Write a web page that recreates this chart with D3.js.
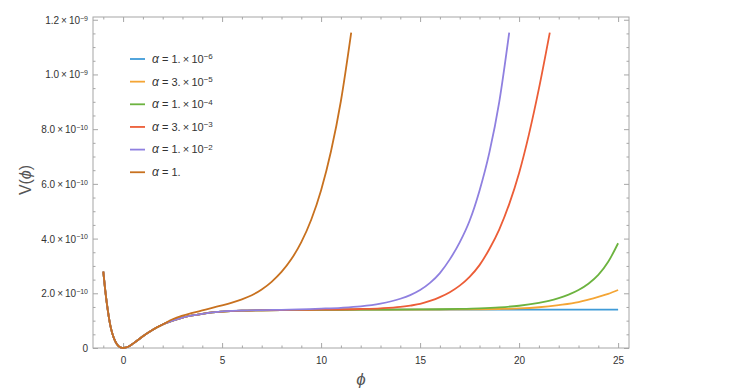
<!DOCTYPE html>
<html>
<head>
<meta charset="utf-8">
<script src="https://cdn.jsdelivr.net/npm/d3@7"></script>
<style>
  body { margin: 0; background: #fff; }
  text { font-family: "Liberation Sans", Arial, sans-serif; }
</style>
</head>
<body>
<div id="chart"></div>
<script>
// V values in units of 1e-10
var phiCommon = [-1, -0.9, -0.8, -0.7, -0.6, -0.5, -0.4, -0.3, -0.2, -0.1, 0, 0.25, 0.5, 0.75, 1, 1.5, 2];
var vCommon   = [2.79, 2.10, 1.52, 1.04, 0.68, 0.43, 0.25, 0.125, 0.05, 0.012, 0, 0.045, 0.16, 0.29, 0.43, 0.67, 0.86];

var phiA1 = [2.5, 3, 3.5, 4, 4.5, 5, 6, 7, 8, 10, 12, 15, 20, 25];
var vA1   = [1.00, 1.11, 1.19, 1.25, 1.30, 1.33, 1.365, 1.38, 1.39, 1.395, 1.40, 1.40, 1.40, 1.405];

var phiA2 = [2.5, 3, 3.5, 4, 4.5, 5, 6, 7, 8, 10, 12, 15, 18, 19, 20, 21, 22, 23, 23.5, 24, 24.5, 25];
var vA2   = [1.00, 1.11, 1.19, 1.25, 1.30, 1.33, 1.365, 1.38, 1.39, 1.395, 1.40, 1.40, 1.415, 1.425, 1.445, 1.49, 1.57, 1.68, 1.77, 1.87, 1.98, 2.12];

var phiA3 = [2.5, 3, 3.5, 4, 4.5, 5, 6, 7, 8, 10, 12, 15, 16, 17, 18, 19, 20, 21, 21.5, 22, 22.5, 23, 23.5, 24, 24.5, 25];
var vA3   = [1.00, 1.11, 1.19, 1.25, 1.30, 1.33, 1.365, 1.38, 1.39, 1.395, 1.40, 1.41, 1.417, 1.43, 1.45, 1.485, 1.545, 1.65, 1.72, 1.82, 1.95, 2.12, 2.35, 2.67, 3.15, 3.83];

var phiA4 = [2.5, 3, 3.5, 4, 4.5, 5, 6, 7, 8, 10, 12, 13, 14, 14.5, 15, 15.5, 16, 16.5, 17, 17.5, 18, 18.5, 19, 19.5, 20, 20.5, 21, 21.55];
var vA4   = [1.00, 1.11, 1.19, 1.25, 1.30, 1.33, 1.365, 1.38, 1.39, 1.40, 1.425, 1.45, 1.50, 1.55, 1.61, 1.72, 1.86, 2.04, 2.28, 2.60, 3.03, 3.62, 4.34, 5.26, 6.40, 7.82, 9.48, 11.53];

var phiA5 = [2.5, 3, 3.5, 4, 4.5, 5, 6, 7, 8, 10, 11, 12, 13, 14, 14.5, 15, 15.5, 16, 16.5, 17, 17.5, 18, 18.5, 19, 19.5];
var vA5   = [1.00, 1.11, 1.19, 1.25, 1.30, 1.34, 1.37, 1.385, 1.395, 1.44, 1.47, 1.52, 1.62, 1.80, 1.935, 2.12, 2.38, 2.74, 3.24, 3.86, 4.65, 5.75, 7.15, 9.01, 11.53];

var phiA6 = [2.5, 3, 3.5, 4, 4.5, 5, 5.5, 6, 6.5, 7, 7.5, 8, 8.5, 9, 9.5, 10, 10.5, 11, 11.52];
var vA6   = [1.05, 1.18, 1.28, 1.375, 1.47, 1.56, 1.66, 1.78, 1.93, 2.14, 2.42, 2.78, 3.25, 3.87, 4.69, 5.77, 7.19, 9.03, 11.53];

var alphaMantissa = ["1.", "3.", "1.", "3.", "1.", "1."];
var alphaExponent = ["\u22126", "\u22125", "\u22124", "\u22123", "\u22122", null];
var seriesColors = ["#3f9bd8", "#f4a535", "#6cb33f", "#ec5d37", "#8f80e0", "#c8711f"];

var yTicks = [0, 2e-10, 4e-10, 6e-10, 8e-10, 1e-9, 1.2e-9];
var yTickMantissa = ["0", "2.0", "4.0", "6.0", "8.0", "1.0", "1.2"];
var yTickExponent = [null, "\u221210", "\u221210", "\u221210", "\u221210", "\u22129", "\u22129"];
var xTicks = [0, 5, 10, 15, 20, 25];

var width = 747, height = 391;
var frame = {left: 93, right: 629, top: 17, bottom: 348};

var svg = d3.select("#chart").append("svg")
  .attr("width", width)
  .attr("height", height);

var x = d3.scaleLinear().domain([-1.52, 25.55]).range([frame.left, frame.right]);
var y = d3.scaleLinear().domain([0, 1.21e-9]).range([frame.bottom, frame.top]);

var frameColor = "#a6a6a6";
var labelColor = "#333";

//Build the series
var tails = [[phiA1, vA1], [phiA2, vA2], [phiA3, vA3], [phiA4, vA4], [phiA5, vA5], [phiA6, vA6]];
var series = tails.map(function(t, i) {
  var phis = phiCommon.concat(t[0]);
  var vals = vCommon.concat(t[1]);
  return {
    color: seriesColors[i],
    mant: alphaMantissa[i],
    exp: alphaExponent[i],
    points: phis.map(function(p, j) { return {phi: p, v: vals[j] * 1e-10}; })
  };
});

///////////////////////////////////////////////////////////////////////////
////////////////////////////// Axes & frame ///////////////////////////////
///////////////////////////////////////////////////////////////////////////

var xMinor = d3.range(-1, 26, 1).filter(function(d) { return d % 5 !== 0; });
var yMinor = d3.range(0, 25, 1).map(function(d) { return d * 0.5e-10; })
  .filter(function(d, i) { return i % 4 !== 0; });

function styleAxis(g) {
  g.select(".domain").remove();
  g.selectAll(".tick line").attr("stroke", frameColor);
  g.selectAll(".tick text").attr("fill", labelColor).style("font-size", "10px");
}

//bottom
svg.append("g").attr("transform", "translate(0," + frame.bottom + ")")
  .call(d3.axisBottom(x).tickValues(xTicks).tickSize(-5).tickPadding(9).tickFormat(d3.format("d")))
  .call(styleAxis);
svg.append("g").attr("transform", "translate(0," + frame.bottom + ")")
  .call(d3.axisBottom(x).tickValues(xMinor).tickSize(-2.5).tickFormat(""))
  .call(styleAxis);
//top
svg.append("g").attr("transform", "translate(0," + frame.top + ")")
  .call(d3.axisTop(x).tickValues(xTicks).tickSize(-5).tickFormat(""))
  .call(styleAxis);
svg.append("g").attr("transform", "translate(0," + frame.top + ")")
  .call(d3.axisTop(x).tickValues(xMinor).tickSize(-2.5).tickFormat(""))
  .call(styleAxis);
//left
var yAxisG = svg.append("g").attr("transform", "translate(" + frame.left + ",0)")
  .call(d3.axisLeft(y).tickValues(yTicks).tickSize(-5).tickPadding(5).tickFormat(""))
  .call(styleAxis);
svg.append("g").attr("transform", "translate(" + frame.left + ",0)")
  .call(d3.axisLeft(y).tickValues(yMinor).tickSize(-2.5).tickFormat(""))
  .call(styleAxis);
//right
svg.append("g").attr("transform", "translate(" + frame.right + ",0)")
  .call(d3.axisRight(y).tickValues(yTicks).tickSize(-5).tickFormat(""))
  .call(styleAxis);
svg.append("g").attr("transform", "translate(" + frame.right + ",0)")
  .call(d3.axisRight(y).tickValues(yMinor).tickSize(-2.5).tickFormat(""))
  .call(styleAxis);

//y tick labels with superscript exponents
yAxisG.selectAll(".tick").each(function(d, i) {
  var t = d3.select(this).append("text")
    .attr("x", -5)
    .attr("dy", "0.35em")
    .attr("text-anchor", "end")
    .attr("fill", labelColor)
    .style("font-size", "10px");
  if (yTickExponent[i] === null) {
    t.text(yTickMantissa[i]);
  } else {
    t.append("tspan").text(yTickMantissa[i] + "\u2009\u00d7\u200910");
    t.append("tspan").attr("dy", "-0.45em").style("font-size", "7px").text(yTickExponent[i]);
  }
});

//frame
svg.append("rect")
  .attr("x", frame.left).attr("y", frame.top)
  .attr("width", frame.right - frame.left)
  .attr("height", frame.bottom - frame.top)
  .attr("fill", "none")
  .attr("stroke", frameColor)
  .attr("stroke-width", 1);

///////////////////////////////////////////////////////////////////////////
///////////////////////////////// Curves //////////////////////////////////
///////////////////////////////////////////////////////////////////////////

svg.append("clipPath").attr("id", "plot-clip")
  .append("rect")
  .attr("x", frame.left).attr("y", frame.top)
  .attr("width", frame.right - frame.left)
  .attr("height", frame.bottom - frame.top + 2);

var line = d3.line()
  .x(function(d) { return x(d.phi); })
  .y(function(d) { return y(d.v); })
  .curve(d3.curveMonotoneX);

svg.append("g").attr("clip-path", "url(#plot-clip)")
  .selectAll(".curve")
  .data(series)
  .enter().append("path")
  .attr("class", "curve")
  .attr("fill", "none")
  .attr("stroke", function(d) { return d.color; })
  .attr("stroke-width", 1.8)
  .attr("d", function(d) { return line(d.points); });

///////////////////////////////////////////////////////////////////////////
///////////////////////////////// Legend //////////////////////////////////
///////////////////////////////////////////////////////////////////////////

var legend = svg.append("g").selectAll(".legend-item")
  .data(series)
  .enter().append("g")
  .attr("class", "legend-item")
  .attr("transform", function(d, i) { return "translate(130," + (59 + i * 22.65) + ")"; });

legend.append("line")
  .attr("x1", 0).attr("x2", 15)
  .attr("stroke", function(d) { return d.color; })
  .attr("stroke-width", 1.8);

var legendText = legend.append("text")
  .attr("x", 22)
  .attr("dy", "0.35em")
  .attr("fill", labelColor)
  .style("font-size", "11px");
legendText.append("tspan").style("font-style", "italic").style("font-size", "12px").text("\u03b1");
legendText.append("tspan").text(function(d) { return " = " + d.mant + (d.exp ? "\u2009\u00d7\u200910" : ""); });
legendText.filter(function(d) { return d.exp; })
  .append("tspan").attr("dy", "-0.45em").style("font-size", "8px")
  .text(function(d) { return d.exp; });

///////////////////////////////////////////////////////////////////////////
////////////////////////////// Axis titles ////////////////////////////////
///////////////////////////////////////////////////////////////////////////

var yTitle = svg.append("text")
  .attr("transform", "translate(31,180) rotate(-90)")
  .attr("text-anchor", "middle")
  .attr("fill", "#555")
  .style("font-size", "16px");
yTitle.append("tspan").text("V(");
yTitle.append("tspan").style("font-style", "italic").text("\u03d5");
yTitle.append("tspan").text(")");

svg.append("text")
  .attr("x", 361).attr("y", 385)
  .attr("text-anchor", "middle")
  .attr("fill", "#555")
  .style("font-size", "17px")
  .style("font-style", "italic")
  .text("\u03d5");
</script>
</body>
</html>
